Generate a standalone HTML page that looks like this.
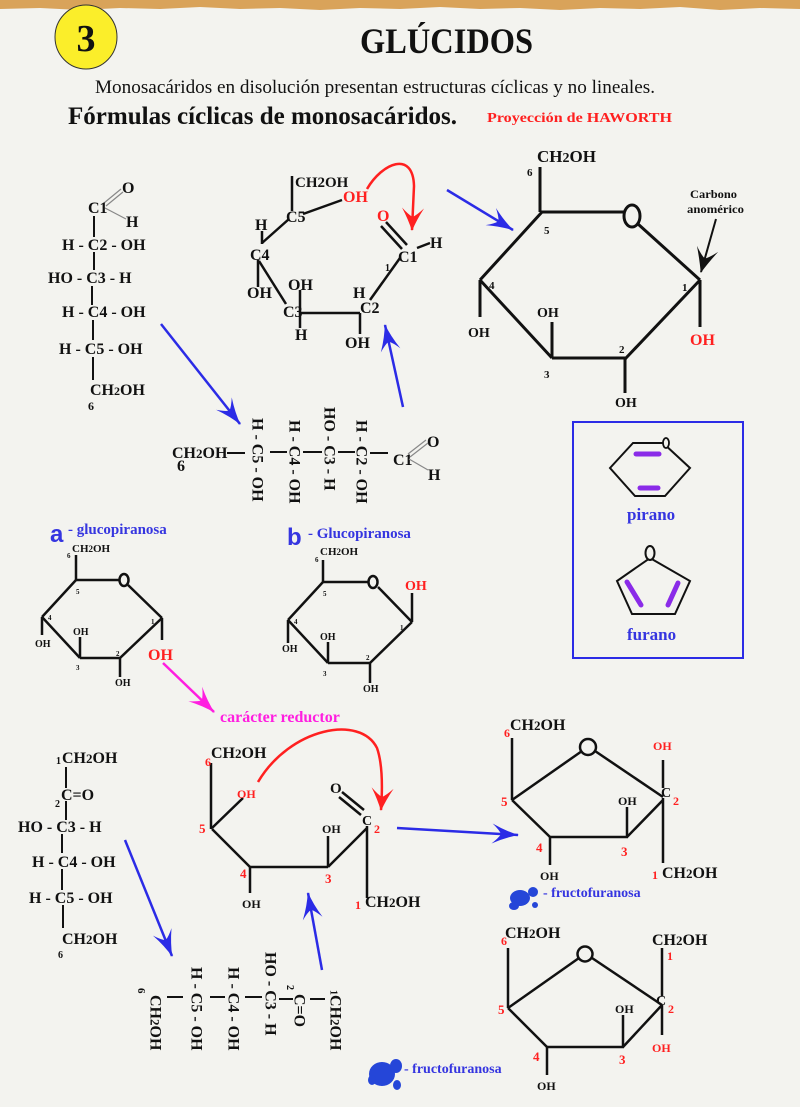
<!DOCTYPE html>
<html><head><meta charset="utf-8">
<style>
html,body{margin:0;padding:0;background:#f3f3ef;}
svg{display:block;}
text{font-family:"Liberation Serif",serif;font-weight:bold;fill:#111;}
.sans{font-family:"Liberation Sans",sans-serif;}
</style></head><body>
<svg width="800" height="1107" viewBox="0 0 800 1107" xmlns="http://www.w3.org/2000/svg">
<defs>
<marker id="ab" markerUnits="userSpaceOnUse" viewBox="-30 -15 32 30" markerWidth="32" markerHeight="30" refX="0" refY="0" orient="auto">
<path d="M1,0 Q-12,-3 -26,-10 Q-19,-4 -17,0 Q-19,4 -26,10 Q-12,3 1,0Z" fill="#2b2be6"/>
</marker>
<marker id="am" markerUnits="userSpaceOnUse" viewBox="-30 -15 32 30" markerWidth="32" markerHeight="30" refX="0" refY="0" orient="auto">
<path d="M1,0 Q-12,-3 -26,-10 Q-19,-4 -17,0 Q-19,4 -26,10 Q-12,3 1,0Z" fill="#ff1ee0"/>
</marker>
<marker id="ar" markerUnits="userSpaceOnUse" viewBox="-30 -15 32 30" markerWidth="32" markerHeight="30" refX="0" refY="0" orient="auto">
<path d="M1,0 Q-10,-4 -22,-11 Q-15,-4 -13,0 Q-15,4 -22,11 Q-10,4 1,0Z" fill="#ff2020"/>
</marker>
<marker id="ak" markerUnits="userSpaceOnUse" viewBox="-30 -15 32 30" markerWidth="32" markerHeight="30" refX="0" refY="0" orient="auto">
<path d="M1,0 Q-10,-4 -24,-11 Q-16,-4 -14,0 Q-16,4 -24,11 Q-10,4 1,0Z" fill="#111"/>
</marker>
</defs>

<!-- top strip -->
<path d="M0,0 H800 V9 L760,8 L720,10 L680,7 L640,9 L600,8 L560,10 L520,8 L480,9 L440,7 L400,9 L360,8 L320,10 L280,8 L240,9 L200,7 L160,9 L120,8 L80,10 L40,8 L0,9Z" fill="#d9a35a"/>

<!-- header -->
<ellipse cx="86" cy="37" rx="31" ry="32" fill="#fbee2a" stroke="#333" stroke-width="1"/>
<text x="86" y="51" font-size="38" text-anchor="middle">3</text>
<text x="360" y="53" font-size="36" textLength="173" lengthAdjust="spacingAndGlyphs">GLÚCIDOS</text>
<text x="95" y="93" font-size="19" style="font-weight:normal" textLength="560" lengthAdjust="spacingAndGlyphs">Monosacáridos en disolución presentan estructuras cíclicas y no lineales.</text>
<text x="68" y="124" font-size="25" textLength="389" lengthAdjust="spacingAndGlyphs">Fórmulas cíclicas de monosacáridos.</text>
<text x="487" y="122" font-size="14" style="fill:#ff1f1f" textLength="185" lengthAdjust="spacingAndGlyphs">Proyección de HAWORTH</text>

<!-- open chain glucose -->
<g stroke="#111" stroke-width="2" fill="none">
<line x1="94" y1="216" x2="94" y2="237"/>
<line x1="94" y1="252" x2="94" y2="270"/>
<line x1="92" y1="286" x2="92" y2="305"/>
<line x1="93" y1="320" x2="93" y2="340"/>
<line x1="93" y1="357" x2="93" y2="380"/>
</g>
<g stroke="#888" stroke-width="1.2">
<line x1="104" y1="203" x2="121" y2="189"/>
<line x1="106" y1="206" x2="123" y2="192"/>
<line x1="105" y1="208" x2="126" y2="219"/>
</g>
<text x="122" y="193" font-size="16">O</text>
<text x="88" y="213" font-size="16">C1</text>
<text x="126" y="227" font-size="16">H</text>
<text x="62" y="250" font-size="16">H - C2 - OH</text>
<text x="48" y="283" font-size="16">HO - C3 - H</text>
<text x="62" y="317" font-size="16">H - C4 - OH</text>
<text x="59" y="354" font-size="16">H - C5 - OH</text>
<text x="90" y="395" font-size="16">CH<tspan font-size="12">2</tspan>OH</text>
<text x="88" y="410" font-size="12">6</text>

<!-- intermediate ring top center -->
<g stroke="#111" stroke-width="2.5" fill="none">
<line x1="292" y1="176" x2="292" y2="211"/>
<line x1="303" y1="214" x2="342" y2="200"/>
<line x1="262" y1="243" x2="289" y2="219"/>
<line x1="262" y1="231" x2="262" y2="244"/>
<line x1="258" y1="260" x2="258" y2="287"/>
<line x1="259" y1="261" x2="286" y2="304"/>
<line x1="300" y1="290" x2="300" y2="328"/>
<line x1="300" y1="313" x2="360" y2="313"/>
<line x1="360" y1="313" x2="360" y2="334"/>
<line x1="370" y1="300" x2="400" y2="258"/>
<line x1="417" y1="248" x2="430" y2="243"/>
<line x1="381" y1="226" x2="402" y2="249"/>
<line x1="386" y1="222" x2="407" y2="245"/>
</g>
<text x="295" y="187" font-size="15">CH2OH</text>
<text x="286" y="222" font-size="16">C5</text>
<text x="343" y="202" font-size="16" style="fill:#ff2020">OH</text>
<text x="377" y="221" font-size="16" style="fill:#ff2020">O</text>
<text x="398" y="262" font-size="16">C1</text>
<text x="430" y="248" font-size="16">H</text>
<text x="385" y="271" font-size="10">1</text>
<text x="353" y="298" font-size="16">H</text>
<text x="360" y="313" font-size="16">C2</text>
<text x="345" y="348" font-size="16">OH</text>
<text x="288" y="290" font-size="16">OH</text>
<text x="283" y="317" font-size="16">C3</text>
<text x="295" y="340" font-size="16">H</text>
<text x="250" y="260" font-size="16">C4</text>
<text x="247" y="298" font-size="16">OH</text>
<text x="255" y="230" font-size="16">H</text>
<path d="M367,189 C382,163 413,150 414,186 L412,230" stroke="#ff2020" stroke-width="2.5" fill="none" marker-end="url(#ar)"/>

<!-- Haworth top right -->
<g stroke="#111" stroke-width="3" fill="none">
<line x1="540" y1="167" x2="540" y2="212"/>
<line x1="540" y1="212" x2="624" y2="212"/>
<line x1="638" y1="224" x2="700" y2="280"/>
<line x1="700" y1="280" x2="700" y2="327"/>
<line x1="700" y1="280" x2="626" y2="358"/>
<line x1="625" y1="358" x2="625" y2="393"/>
<line x1="552" y1="358" x2="627" y2="358"/>
<line x1="552" y1="358" x2="552" y2="322"/>
<line x1="480" y1="280" x2="552" y2="358"/>
<line x1="480" y1="280" x2="480" y2="317"/>
<line x1="542" y1="212" x2="480" y2="280"/>
</g>
<ellipse cx="632" cy="216" rx="8" ry="11" fill="#f3f3ef" stroke="#111" stroke-width="3"/>
<text x="537" y="162" font-size="17">CH<tspan font-size="14">2</tspan>OH</text>
<text x="527" y="176" font-size="11">6</text>
<text x="544" y="234" font-size="11">5</text>
<text x="489" y="289" font-size="11">4</text>
<text x="544" y="378" font-size="11">3</text>
<text x="619" y="353" font-size="11">2</text>
<text x="682" y="291" font-size="11">1</text>
<text x="537" y="317" font-size="14">OH</text>
<text x="468" y="337" font-size="14">OH</text>
<text x="615" y="407" font-size="14">OH</text>
<text x="690" y="345" font-size="16" style="fill:#ff2020">OH</text>
<text x="690" y="198" font-size="12" textLength="47" lengthAdjust="spacingAndGlyphs">Carbono</text>
<text x="687" y="213" font-size="12" textLength="57" lengthAdjust="spacingAndGlyphs">anomérico</text>
<line x1="716" y1="219" x2="701" y2="272" stroke="#111" stroke-width="2" marker-end="url(#ak)"/>

<!-- blue arrows -->
<g stroke="#2b2be6" stroke-width="2.5" fill="none">
<line x1="447" y1="190" x2="513" y2="230" marker-end="url(#ab)"/>
<line x1="161" y1="324" x2="240" y2="424" marker-end="url(#ab)"/>
<line x1="403" y1="407" x2="385" y2="325" marker-end="url(#ab)"/>
<line x1="125" y1="840" x2="172" y2="956" marker-end="url(#ab)"/>
<line x1="322" y1="970" x2="308" y2="893" marker-end="url(#ab)"/>
<line x1="397" y1="828" x2="518" y2="835" marker-end="url(#ab)"/>
</g>
<line x1="163" y1="663" x2="214" y2="712" stroke="#ff1ee0" stroke-width="2.5" marker-end="url(#am)"/>

<!-- horizontal glucose chain -->
<text x="172" y="458" font-size="16">CH<tspan font-size="13">2</tspan>OH</text>
<text x="177" y="471" font-size="16">6</text>
<g stroke="#111" stroke-width="2">
<line x1="227" y1="453" x2="245" y2="453"/>
<line x1="270" y1="452" x2="287" y2="452"/>
<line x1="303" y1="452" x2="322" y2="452"/>
<line x1="338" y1="452" x2="355" y2="452"/>
<line x1="370" y1="453" x2="388" y2="453"/>
</g>
<text font-size="16" transform="translate(252.5,418) rotate(90)">H - C5 - OH</text>
<text font-size="16" transform="translate(289.5,420) rotate(90)">H - C4 - OH</text>
<text font-size="16" transform="translate(324.5,407) rotate(90)">HO - C3 - H</text>
<text font-size="16" transform="translate(356.5,420) rotate(90)">H - C2 - OH</text>
<text x="393" y="465" font-size="16">C1</text>
<text x="427" y="447" font-size="16">O</text>
<text x="428" y="480" font-size="16">H</text>
<g stroke="#888" stroke-width="1.2">
<line x1="408" y1="454" x2="426" y2="440"/>
<line x1="410" y1="457" x2="428" y2="443"/>
<line x1="409" y1="459" x2="428" y2="470"/>
</g>

<!-- alpha / beta labels -->
<text x="50" y="542" font-size="24" class="sans" style="fill:#3535e0">a</text>
<text x="68" y="534" font-size="15" style="fill:#3535e0">- glucopiranosa</text>
<text x="287" y="545" font-size="24" class="sans" style="fill:#3535e0">b</text>
<text x="308" y="538" font-size="15" style="fill:#3535e0">- Glucopiranosa</text>

<!-- alpha ring -->
<g stroke="#111" stroke-width="2.5" fill="none">
<line x1="76" y1="555" x2="76" y2="580"/>
<line x1="76" y1="580" x2="120" y2="580"/>
<line x1="128" y1="585" x2="162" y2="618"/>
<line x1="162" y1="618" x2="162" y2="640"/>
<line x1="162" y1="618" x2="120" y2="658"/>
<line x1="120" y1="658" x2="120" y2="677"/>
<line x1="80" y1="658" x2="121" y2="658"/>
<line x1="80" y1="658" x2="80" y2="637"/>
<line x1="42" y1="617" x2="80" y2="658"/>
<line x1="42" y1="617" x2="42" y2="635"/>
<line x1="76" y1="580" x2="42" y2="617"/>
</g>
<ellipse cx="124" cy="580" rx="4.5" ry="6" fill="#f3f3ef" stroke="#111" stroke-width="2.5"/>
<text x="72" y="552" font-size="11">CH<tspan font-size="9">2</tspan>OH</text>
<text x="67" y="558" font-size="7">6</text>
<text x="76" y="594" font-size="7">5</text>
<text x="48" y="620" font-size="7">4</text>
<text x="76" y="670" font-size="7">3</text>
<text x="116" y="656" font-size="7">2</text>
<text x="151" y="624" font-size="7">1</text>
<text x="73" y="635" font-size="10">OH</text>
<text x="35" y="647" font-size="10">OH</text>
<text x="115" y="686" font-size="10">OH</text>
<text x="148" y="660" font-size="16" style="fill:#ff2020">OH</text>

<!-- beta ring -->
<g stroke="#111" stroke-width="2.5" fill="none">
<line x1="323" y1="560" x2="323" y2="582"/>
<line x1="323" y1="582" x2="368" y2="582"/>
<line x1="378" y1="587" x2="412" y2="622"/>
<line x1="412" y1="622" x2="412" y2="593"/>
<line x1="412" y1="622" x2="370" y2="663"/>
<line x1="370" y1="663" x2="370" y2="683"/>
<line x1="328" y1="663" x2="371" y2="663"/>
<line x1="328" y1="663" x2="328" y2="642"/>
<line x1="288" y1="620" x2="328" y2="663"/>
<line x1="288" y1="620" x2="288" y2="643"/>
<line x1="323" y1="582" x2="288" y2="620"/>
</g>
<ellipse cx="373" cy="582" rx="4.5" ry="6" fill="#f3f3ef" stroke="#111" stroke-width="2.5"/>
<text x="320" y="555" font-size="11">CH<tspan font-size="9">2</tspan>OH</text>
<text x="315" y="562" font-size="7">6</text>
<text x="323" y="596" font-size="7">5</text>
<text x="294" y="624" font-size="7">4</text>
<text x="323" y="676" font-size="7">3</text>
<text x="366" y="660" font-size="7">2</text>
<text x="400" y="630" font-size="7">1</text>
<text x="320" y="640" font-size="10">OH</text>
<text x="282" y="652" font-size="10">OH</text>
<text x="363" y="692" font-size="10">OH</text>
<text x="405" y="590" font-size="14" style="fill:#ff2020">OH</text>

<text x="220" y="722" font-size="16" style="fill:#ff1ee0">carácter reductor</text>

<!-- pirano / furano box -->
<rect x="573" y="422" width="170" height="236" fill="none" stroke="#2b2be6" stroke-width="2"/>
<polygon points="610,468 633,443 663,443 690,468 665,496 635,496" fill="none" stroke="#111" stroke-width="2"/>
<ellipse cx="666" cy="443" rx="3" ry="5" fill="#f3f3ef" stroke="#111" stroke-width="1.8"/>
<g stroke="#8a2be8" stroke-width="5" stroke-linecap="round">
<line x1="636" y1="454" x2="659" y2="454"/>
<line x1="640" y1="488" x2="658" y2="488"/>
<line x1="627" y1="582" x2="641" y2="605"/>
<line x1="678" y1="583" x2="668" y2="605"/>
</g>
<text x="627" y="520" font-size="17" style="fill:#3535e0">pirano</text>
<polygon points="650,558 690,581 675,614 632,614 617,581" fill="none" stroke="#111" stroke-width="2"/>
<ellipse cx="650" cy="553" rx="4.5" ry="7" fill="#f3f3ef" stroke="#111" stroke-width="2"/>
<text x="627" y="640" font-size="17" style="fill:#3535e0">furano</text>

<!-- open chain fructose -->
<g stroke="#111" stroke-width="2" fill="none">
<line x1="66" y1="767" x2="66" y2="788"/>
<line x1="66" y1="801" x2="66" y2="820"/>
<line x1="62" y1="834" x2="62" y2="853"/>
<line x1="62" y1="869" x2="62" y2="890"/>
<line x1="63" y1="905" x2="63" y2="928"/>
</g>
<text x="56" y="764" font-size="10">1</text>
<text x="62" y="763" font-size="16">CH<tspan font-size="13">2</tspan>OH</text>
<text x="61" y="800" font-size="16">C=O</text>
<text x="55" y="807" font-size="10">2</text>
<text x="18" y="832" font-size="16">HO - C3 - H</text>
<text x="32" y="867" font-size="16">H - C4 - OH</text>
<text x="29" y="903" font-size="16">H - C5 - OH</text>
<text x="62" y="944" font-size="16">CH<tspan font-size="13">2</tspan>OH</text>
<text x="58" y="958" font-size="10">6</text>

<!-- center fructose intermediate -->
<g stroke="#111" stroke-width="2.5" fill="none">
<line x1="211" y1="763" x2="211" y2="829"/>
<line x1="212" y1="828" x2="243" y2="798"/>
<line x1="212" y1="829" x2="250" y2="867"/>
<line x1="250" y1="867" x2="250" y2="893"/>
<line x1="250" y1="867" x2="328" y2="867"/>
<line x1="328" y1="867" x2="328" y2="836"/>
<line x1="328" y1="867" x2="367" y2="828"/>
<line x1="367" y1="826" x2="367" y2="898"/>
<line x1="339" y1="797" x2="361" y2="815"/>
<line x1="342" y1="792" x2="364" y2="810"/>
</g>
<text x="205" y="766" font-size="12" style="fill:#ff2020">6</text>
<text x="211" y="758" font-size="16">CH<tspan font-size="13">2</tspan>OH</text>
<text x="199" y="833" font-size="13" style="fill:#ff2020">5</text>
<text x="237" y="798" font-size="12" style="fill:#ff2020">OH</text>
<text x="240" y="878" font-size="13" style="fill:#ff2020">4</text>
<text x="242" y="908" font-size="12">OH</text>
<text x="325" y="883" font-size="13" style="fill:#ff2020">3</text>
<text x="322" y="833" font-size="12">OH</text>
<text x="330" y="793" font-size="15">O</text>
<text x="362" y="825" font-size="14">C</text>
<text x="374" y="833" font-size="12" style="fill:#ff2020">2</text>
<text x="355" y="909" font-size="12" style="fill:#ff2020">1</text>
<text x="365" y="907" font-size="16">CH<tspan font-size="13">2</tspan>OH</text>
<path d="M258,782 C290,728 360,714 377,748 Q384,768 381,810" stroke="#ff2020" stroke-width="2.5" fill="none" marker-end="url(#ar)"/>

<!-- horizontal fructose chain -->
<g stroke="#111" stroke-width="2">
<line x1="167" y1="997" x2="183" y2="997"/>
<line x1="210" y1="997" x2="225" y2="997"/>
<line x1="245" y1="997" x2="262" y2="997"/>
<line x1="279" y1="999" x2="293" y2="999"/>
<line x1="310" y1="999" x2="325" y2="999"/>
</g>
<text font-size="11" transform="translate(138,988) rotate(90)">6</text>
<text font-size="16" transform="translate(150.5,995) rotate(90)">CH<tspan font-size="13">2</tspan>OH</text>
<text font-size="16" transform="translate(191.5,967) rotate(90)">H - C5 - OH</text>
<text font-size="16" transform="translate(228.5,967) rotate(90)">H - C4 - OH</text>
<text font-size="16" transform="translate(265.5,952) rotate(90)">HO - C3 - H</text>
<text font-size="10" transform="translate(287,985) rotate(90)">2</text>
<text font-size="16" transform="translate(294.5,994) rotate(90)">C=O</text>
<text font-size="16" transform="translate(330.5,990) rotate(90)"><tspan font-size="10">1</tspan>CH<tspan font-size="13">2</tspan>OH</text>

<!-- blob + fructofuranosa labels -->
<g fill="#2546d8">
<ellipse cx="382" cy="1074" rx="13" ry="12"/>
<ellipse cx="396" cy="1066" rx="6" ry="7"/>
<ellipse cx="397" cy="1085" rx="4" ry="5"/>
<ellipse cx="372" cy="1080" rx="4" ry="5"/>
<ellipse cx="520" cy="898" rx="10" ry="8"/>
<ellipse cx="533" cy="892" rx="5" ry="5"/>
<ellipse cx="514" cy="906" rx="5" ry="4"/>
<ellipse cx="535" cy="905" rx="3" ry="3"/>
</g>
<text x="404" y="1073" font-size="14" style="fill:#3535e0">- fructofuranosa</text>
<text x="543" y="897" font-size="14" style="fill:#3535e0">- fructofuranosa</text>

<!-- right fructofuranose 1 -->
<g stroke="#111" stroke-width="2.5" fill="none">
<line x1="512" y1="738" x2="512" y2="800"/>
<line x1="512" y1="800" x2="582" y2="751"/>
<line x1="595" y1="751" x2="663" y2="797"/>
<line x1="663" y1="760" x2="663" y2="788"/>
<line x1="663" y1="798" x2="663" y2="863"/>
<line x1="663" y1="800" x2="627" y2="837"/>
<line x1="627" y1="837" x2="627" y2="807"/>
<line x1="550" y1="837" x2="628" y2="837"/>
<line x1="550" y1="837" x2="550" y2="865"/>
<line x1="512" y1="800" x2="550" y2="837"/>
</g>
<circle cx="588" cy="747" r="8" fill="#f3f3ef" stroke="#111" stroke-width="2.5"/>
<text x="504" y="737" font-size="12" style="fill:#ff2020">6</text>
<text x="510" y="730" font-size="16">CH<tspan font-size="13">2</tspan>OH</text>
<text x="501" y="806" font-size="13" style="fill:#ff2020">5</text>
<text x="536" y="852" font-size="13" style="fill:#ff2020">4</text>
<text x="621" y="856" font-size="13" style="fill:#ff2020">3</text>
<text x="661" y="797" font-size="14">C</text>
<text x="673" y="805" font-size="12" style="fill:#ff2020">2</text>
<text x="653" y="750" font-size="12" style="fill:#ff2020">OH</text>
<text x="618" y="805" font-size="12">OH</text>
<text x="540" y="880" font-size="12">OH</text>
<text x="652" y="879" font-size="12" style="fill:#ff2020">1</text>
<text x="662" y="878" font-size="16">CH<tspan font-size="13">2</tspan>OH</text>

<!-- right fructofuranose 2 -->
<g stroke="#111" stroke-width="2.5" fill="none">
<line x1="508" y1="948" x2="508" y2="1008"/>
<line x1="508" y1="1008" x2="579" y2="958"/>
<line x1="592" y1="958" x2="662" y2="1005"/>
<line x1="662" y1="948" x2="662" y2="996"/>
<line x1="662" y1="1005" x2="662" y2="1035"/>
<line x1="662" y1="1005" x2="623" y2="1047"/>
<line x1="623" y1="1047" x2="623" y2="1015"/>
<line x1="547" y1="1047" x2="624" y2="1047"/>
<line x1="547" y1="1047" x2="547" y2="1075"/>
<line x1="508" y1="1008" x2="547" y2="1047"/>
</g>
<circle cx="585" cy="954" r="7.5" fill="#f3f3ef" stroke="#111" stroke-width="2.5"/>
<text x="501" y="945" font-size="12" style="fill:#ff2020">6</text>
<text x="505" y="938" font-size="16">CH<tspan font-size="13">2</tspan>OH</text>
<text x="498" y="1014" font-size="13" style="fill:#ff2020">5</text>
<text x="533" y="1061" font-size="13" style="fill:#ff2020">4</text>
<text x="619" y="1064" font-size="13" style="fill:#ff2020">3</text>
<text x="656" y="1005" font-size="14">C</text>
<text x="668" y="1013" font-size="12" style="fill:#ff2020">2</text>
<text x="667" y="960" font-size="12" style="fill:#ff2020">1</text>
<text x="652" y="945" font-size="16">CH<tspan font-size="13">2</tspan>OH</text>
<text x="652" y="1052" font-size="12" style="fill:#ff2020">OH</text>
<text x="615" y="1013" font-size="12">OH</text>
<text x="537" y="1090" font-size="12">OH</text>
</svg>
</body></html>
